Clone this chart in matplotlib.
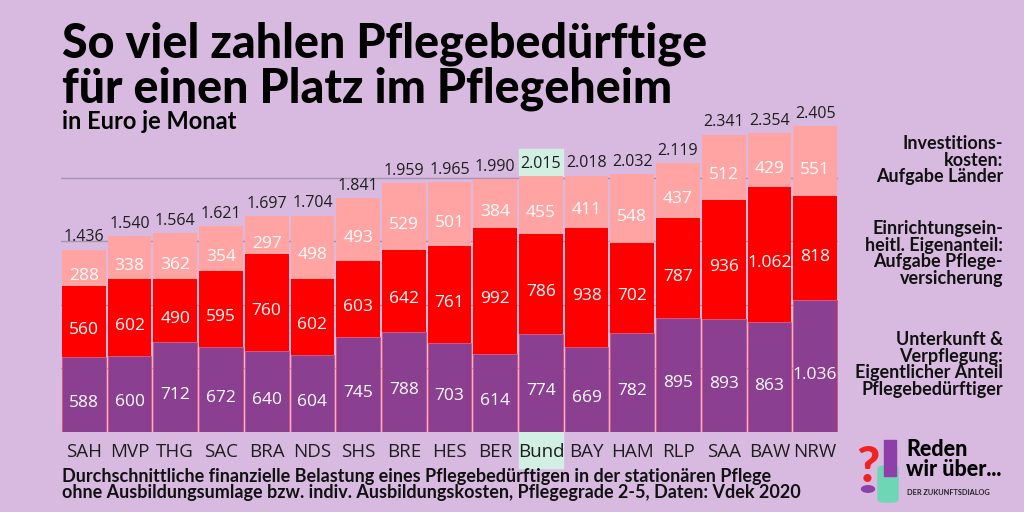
import matplotlib
matplotlib.use("Agg")
import matplotlib.pyplot as plt
import matplotlib.patches as patches

# Daten: Vdek 2020, Euro je Monat
laender = ["SAH", "MVP", "THG", "SAC", "BRA", "NDS", "SHS", "BRE", "HES",
           "BER", "Bund", "BAY", "HAM", "RLP", "SAA", "BAW", "NRW"]
unterkunft = [588, 600, 712, 672, 640, 604, 745, 788, 703, 614, 774, 669, 782, 895, 893, 863, 1036]
eigenanteil = [560, 602, 490, 595, 760, 602, 603, 642, 761, 992, 786, 938, 702, 787, 936, 1062, 818]
investition = [288, 338, 362, 354, 297, 498, 493, 529, 501, 384, 455, 411, 548, 437, 512, 429, 551]
highlight = "Bund"

BG = "#D8BAE0"
PURPLE = "#8A3F90"
RED = "#FF0000"
PINK = "#FFA3A3"
GREEN = "#D2EFE3"
NUM_FONT = "Open Sans"
HEAD_FONT = "Lato"


def de(n):
    return f"{n:,}".replace(",", ".")


fig = plt.figure(figsize=(10.24, 5.12), dpi=100)
fig.patch.set_facecolor(BG)

ax = fig.add_axes([61 / 1024, 80 / 512, 777 / 1024, 343 / 512])
ax.set_facecolor("none")
ax.set_xlim(-0.5, len(laender) - 0.5)
ax.set_ylim(0, 2700)

x = list(range(len(laender)))
totals = [a + b + c for a, b, c in zip(unterkunft, eigenanteil, investition)]
mid = [a + b for a, b in zip(unterkunft, eigenanteil)]

w = 0.955
ax.bar(x, unterkunft, width=w, color=PURPLE, edgecolor="#D4557E", linewidth=0.7, zorder=2)
ax.bar(x, eigenanteil, bottom=unterkunft, width=w, color=RED, linewidth=0, zorder=2)
ax.bar(x, investition, bottom=mid, width=w, color=PINK, linewidth=0, zorder=2)

for vals, bottoms in [(unterkunft, [0] * len(x)), (eigenanteil, unterkunft), (investition, mid)]:
    for i, (v, b) in enumerate(zip(vals, bottoms)):
        ax.annotate(de(v), (i, b + v / 2), xytext=(0, -6), textcoords="offset points",
                    ha="center", va="center", color="white", fontsize=12.5,
                    family=NUM_FONT, zorder=4)

for i, t in enumerate(totals):
    ax.annotate(de(t), (i, t), xytext=(0, 3), textcoords="offset points",
                ha="center", va="bottom", color="#1E1E1E", fontsize=11.5,
                family=NUM_FONT, zorder=4)

# Hervorhebung Bund
hi = laender.index(highlight)
ax.add_patch(patches.Rectangle((hi - w / 2, totals[hi]), w, 215, color=GREEN, zorder=0.1,
                               clip_on=False))
ax.add_patch(patches.Rectangle((hi - w / 2, -285), w, 285, color=GREEN, zorder=0.1,
                               clip_on=False))

ax.set_yticks([0, 500, 1000, 1500, 2000])
ax.yaxis.grid(True, color="#A892B2", linewidth=1.0)
ax.set_axisbelow(True)
ax.tick_params(axis="y", left=False, labelleft=False)
ax.tick_params(axis="x", length=0, pad=8)
ax.set_xticks(x)
ax.set_xticklabels(laender, fontsize=13.5, color="#1E1E1E", family=NUM_FONT)
for s in ax.spines.values():
    s.set_visible(False)

# Titel
fig.text(62 / 1024, 1 - 22 / 512, "So viel zahlen Pflegebedürftige\nfür einen Platz im Pflegeheim",
         fontsize=33.5, fontweight="black", family=HEAD_FONT, color="black",
         va="top", linespacing=1.0)
fig.text(62 / 1024, 1 - 129 / 512, "in Euro je Monat", fontsize=17, fontweight="bold",
         family=HEAD_FONT, color="black", va="baseline")

# Legende rechts
legend_texts = [
    (135, "Investitions-\nkosten:\nAufgabe Länder"),
    (220, "Einrichtungsein-\nheitl. Eigenanteil:\nAufgabe Pflege-\nversicherung"),
    (331, "Unterkunft &\nVerpflegung:\nEigentlicher Anteil\nPflegebedürftiger"),
]
for y, txt in legend_texts:
    fig.text(1003 / 1024, 1 - y / 512, txt, ha="right", va="top", fontsize=13,
             fontweight="bold", family=HEAD_FONT, color="#111111", linespacing=0.98,
             multialignment="right")

# Fußnote
fig.text(62 / 1024, 1 - 468 / 512,
         "Durchschnittliche finanzielle Belastung eines Pflegebedürftigen in der stationären Pflege\n"
         "ohne Ausbildungsumlage bzw. indiv. Ausbildungskosten, Pflegegrade 2-5, Daten: Vdek 2020",
         fontsize=13, fontweight="bold", family=HEAD_FONT, color="#111111",
         va="top", linespacing=0.95)

# Logo
fig.patches.append(patches.Rectangle((884 / 1024, 1 - 476 / 512), 12 / 1024, 36 / 512,
                                     color="#8E3FA8", transform=fig.transFigure, zorder=2))
fig.patches.append(patches.FancyBboxPatch((878 / 1024, 1 - 502 / 512), 20 / 1024, 36 / 512,
                                          boxstyle="round,pad=0,rounding_size=0.006",
                                          color="#6FD6B5", transform=fig.transFigure, zorder=1))
fig.text(868 / 1024, 1 - 482 / 512, "?", fontsize=36, fontweight="black", family=HEAD_FONT,
         color="#F02222", ha="center", va="baseline", zorder=3)
fig.patches.append(patches.Circle((868 / 1024, 1 - 489 / 512), 6.5 / 1024, color="#8E3FA8",
                                  transform=fig.transFigure, zorder=4))
fig.text(906 / 1024, 1 - 439 / 512, "Reden\nwir über...", fontsize=15.5, fontweight="black",
         family=HEAD_FONT, color="black", va="top", linespacing=0.95)
fig.text(907 / 1024, 1 - 495 / 512, "DER ZUKUNFTSDIALOG", fontsize=5.3, fontweight="bold",
         family=HEAD_FONT, color="#222222", va="baseline")

fig.savefig("out.png", dpi=100, facecolor=BG)
